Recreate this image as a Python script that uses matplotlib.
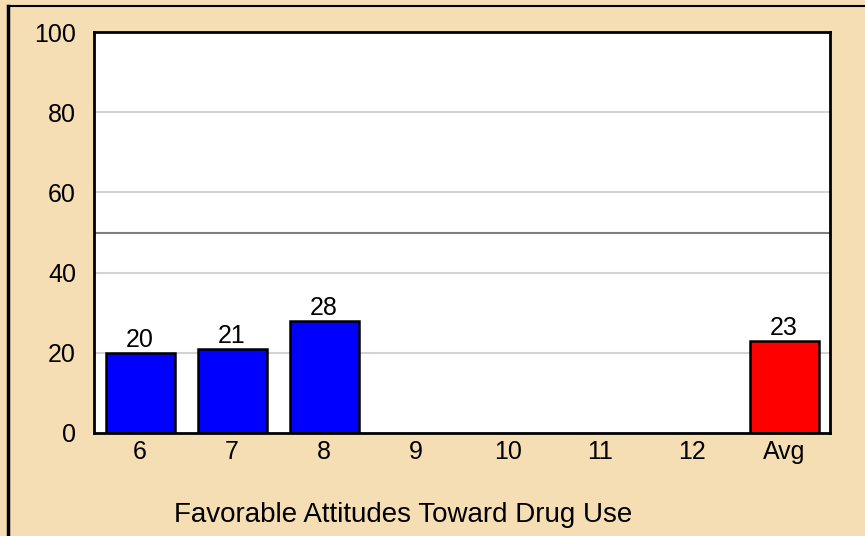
import matplotlib.pyplot as plt
from matplotlib.lines import Line2D

# grades and percent with favorable attitudes
grades = ['6', '7', '8', '9', '10', '11', '12', 'Avg']
values = [20, 21, 28, None, None, None, None, 23]
bar_colors = ['#0000ff'] * 7 + ['#ff0000']
yticks = [0, 20, 40, 60, 80, 100]
ref_line = 50

plt.rcParams['font.family'] = ['Liberation Sans', 'DejaVu Sans']

fig = plt.figure(figsize=(8.65, 5.36), dpi=100, facecolor='#f5deb3')
ax = fig.add_axes([94/865, 1 - 433/536, 736/865, 401/536])

# border on the figure (left & top only visible)
fig.add_artist(Line2D([8/865, 8/865], [0, 1 - 6/536], color='black', lw=2.5))
fig.add_artist(Line2D([8/865, 1], [1 - 6/536, 1 - 6/536], color='black', lw=1.5))

for y in yticks[1:-1]:
    ax.axhline(y, color='#d3d3d3', lw=1.5, zorder=0)
ax.axhline(ref_line, color='#808080', lw=1.5, zorder=1)

for i, (v, c) in enumerate(zip(values, bar_colors)):
    if v is None:
        continue
    ax.bar(i, v, width=0.75, color=c, edgecolor='black', linewidth=1.8, zorder=2)
    ax.text(i, v + 0.1, str(v), ha='center', va='bottom', fontsize=18)

ax.set_xlim(-0.5, len(grades) - 0.5)
ax.set_ylim(0, 100)
ax.set_xticks(range(len(grades)))
ax.set_xticklabels(grades)
ax.set_yticks(yticks)
ax.tick_params(length=0, labelsize=18, pad=5)
ax.tick_params(axis='y', pad=13)
for s in ax.spines.values():
    s.set_linewidth(2)

fig.text(403/865, 1 - 515/536, 'Favorable Attitudes Toward Drug Use',
         ha='center', va='center', fontsize=20)

fig.savefig('out.png', dpi=100, facecolor=fig.get_facecolor())
